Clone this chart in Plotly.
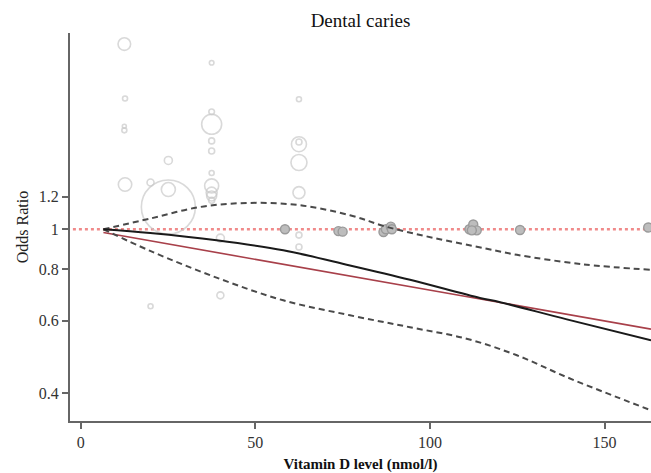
import math
import plotly.graph_objects as go

# ---- data ----
title_text = "Dental caries"
x_title = "<b>Vitamin D level (nmol/l)</b>"
y_title = "Odds Ratio"

x_ticks = [0, 50, 100, 150]
y_ticks = [0.4, 0.6, 0.8, 1, 1.2]
y_tick_labels = ["0.4", "0.6", "0.8", "1", "1.2"]

# fitted spline (black)
spline_x = [6.5, 19.9, 38.9, 58, 77.1, 94.3, 114.3, 120.1, 139.2, 163.3]
spline_or = [1.0, 0.979, 0.940, 0.889, 0.817, 0.754, 0.681, 0.665, 0.604, 0.537]

# upper confidence limit
upper_x = [6.5, 19.9, 34.2, 48.5, 62.8, 77.1, 87.6, 101, 116.3, 124.9, 143.9, 163.3]
upper_or = [1.0, 1.062, 1.133, 1.159, 1.144, 1.082, 1.014, 0.953, 0.897, 0.867, 0.822, 0.797]

# lower confidence limit
lower_x = [6.5, 19.9, 38.9, 58, 77.1, 94.3, 110.5, 124.9, 139.2, 153.5, 163.3]
lower_or = [1.0, 0.886, 0.763, 0.672, 0.618, 0.578, 0.542, 0.494, 0.437, 0.391, 0.363]

# linear trend (red)
linear_x = [6.5, 163.3]
linear_or = [0.982, 0.572]

# study estimates, open bubbles
open_x = [12.5, 12.7, 12.5, 12.5, 12.7, 20.0, 25.1, 25.1, 25.1,
          37.5, 37.5, 37.5, 37.5, 37.5, 37.5, 37.5, 37.5, 37.5, 37.5,
          62.5, 62.5, 62.5, 62.5, 62.5, 40.0, 62.5, 62.5, 40.0, 20.0]
open_or = [2.82, 2.08, 1.78, 1.74, 1.285, 1.299, 1.47, 1.249, 1.133,
           2.54, 1.93, 1.80, 1.64, 1.55, 1.37, 1.275, 1.228, 1.205, 1.176,
           2.07, 1.61, 1.63, 1.453, 1.228, 0.952, 0.968, 0.906, 0.691, 0.650]
open_r = [6.3, 2.5, 2.0, 2.5, 6.7, 3.5, 4.0, 7.0, 27.0,
          2.3, 2.8, 10.0, 3.0, 3.0, 2.5, 7.0, 5.5, 5.0, 3.0,
          2.5, 7.5, 3.0, 8.0, 6.0, 4.0, 3.0, 3.0, 3.5, 2.5]

# study estimates on the reference line, filled bubbles
filled_x = [58.5, 73.8, 75.0, 86.7, 87.4, 88.8, 89.1, 111.3, 112.4, 113.4, 112.0, 125.8, 162.5]
filled_or = [1.0, 0.990, 0.987, 0.985, 1.0, 1.015, 1.0, 1.0, 1.027, 0.994, 0.994, 0.996, 1.01]

x_range = [-3.06, 163.3]
y_range = [0.342, 3.0]
ref_or = 1.0

serif = "Liberation Serif, Times New Roman, serif"

fig = go.Figure()

fig.add_trace(go.Scatter(
    x=open_x, y=open_or, mode="markers",
    marker=dict(size=[2 * r for r in open_r], color="rgba(0,0,0,0)",
                line=dict(color="#c9c9c9", width=1.6)),
    hoverinfo="skip", showlegend=False))

fig.add_trace(go.Scatter(
    x=filled_x, y=filled_or, mode="markers",
    marker=dict(size=9, color="#bdbdbd", line=dict(color="#9a9a9a", width=1.4)),
    hoverinfo="skip", showlegend=False))

fig.add_trace(go.Scatter(
    x=linear_x, y=linear_or, mode="lines",
    line=dict(color="#a8404a", width=1.6), showlegend=False))

for xs, ys in ((upper_x, upper_or), (lower_x, lower_or)):
    fig.add_trace(go.Scatter(
        x=xs, y=ys, mode="lines", line_shape="spline",
        line=dict(color="#4a4a4a", width=2, dash="6px,4px"), showlegend=False))

fig.add_trace(go.Scatter(
    x=spline_x, y=spline_or, mode="lines", line_shape="spline",
    line=dict(color="#1a1a1a", width=2), showlegend=False))

fig.add_shape(type="line", xref="paper", yref="y", x0=0.005, x1=1,
              y0=ref_or, y1=ref_or, layer="below",
              line=dict(color="#f08a8a", width=2.5, dash="dot"))

fig.update_layout(
    width=651, height=473,
    margin=dict(l=70, r=0, t=33, b=52),
    paper_bgcolor="white", plot_bgcolor="white",
    font=dict(family=serif, color="#222"),
    title=dict(text=title_text, x=0.5, xref="paper", y=1 - 20 / 473,
               yanchor="middle", font=dict(size=19, color="#111", family=serif)),
    showlegend=False,
)

fig.update_xaxes(
    range=x_range, tickvals=x_ticks, ticks="outside", ticklen=6, tickwidth=1.5,
    tickcolor="#666", showline=True, linecolor="#666", linewidth=2,
    showgrid=False, zeroline=False, tickfont=dict(size=16, color="#333"),
    automargin=False,
    title=dict(text=x_title, font=dict(size=15, color="#111"), standoff=8))

fig.update_yaxes(
    type="log", range=[math.log10(y_range[0]), math.log10(y_range[1])],
    tickvals=y_ticks, ticktext=y_tick_labels, ticks="outside", ticklen=6,
    tickwidth=1.5, tickcolor="#666", showline=True, linecolor="#666", linewidth=2,
    showgrid=False, zeroline=False, tickfont=dict(size=16, color="#333"),
    automargin=False,
    title=dict(text=y_title, font=dict(size=16, color="#222"), standoff=6))

fig.write_html("out.html", config={"displayModeBar": False},
               post_script="document.body.style.margin='0px';")
